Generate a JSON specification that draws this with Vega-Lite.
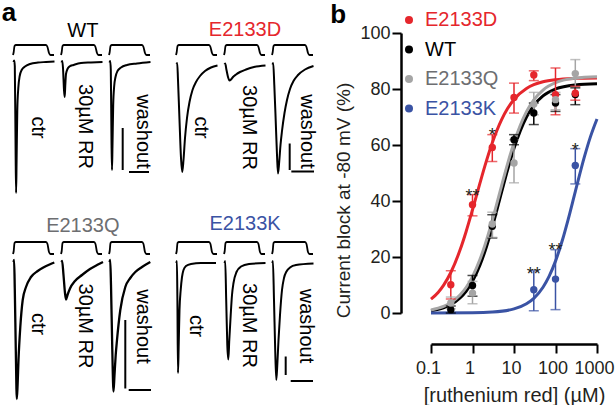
{
 "$schema": "https://vega.github.io/schema/vega-lite/v6.json",
 "background": "white",
 "padding": {"left": 1, "top": 0, "right": 0, "bottom": 0},
 "config": {"font": "Liberation Sans", "view": {"stroke": null}},
 "resolve": {"scale": {"color": "independent"}, "legend": {"color": "independent"}},
 "datasets": {
  "traces": [
   {"g":"WT","sweep":"ctr","kind":"proto","t":[0,1.7,3.6,7.1,78.6,82.1,85.7,89.3,97.6],"i":[0.16,0.22,0.34,0.36,0.36,0.32,0.20,0.16,0.16]},
   {"g":"WT","sweep":"RR","kind":"proto","t":[0,1.7,3.6,7.1,78.6,82.1,85.7,89.3,97.6],"i":[0.16,0.22,0.34,0.36,0.36,0.32,0.20,0.16,0.16]},
   {"g":"WT","sweep":"washout","kind":"proto","t":[0,1.7,3.6,7.1,78.6,82.1,85.7,89.3,97.6],"i":[0.16,0.22,0.34,0.36,0.36,0.32,0.20,0.16,0.16]},
   {"g":"E2133D","sweep":"ctr","kind":"proto","t":[0,1.7,3.6,7.1,78.6,82.1,85.7,89.3,97.6],"i":[0.16,0.22,0.34,0.36,0.36,0.32,0.20,0.16,0.16]},
   {"g":"E2133D","sweep":"RR","kind":"proto","t":[0,1.7,3.6,7.1,78.6,82.1,85.7,89.3,97.6],"i":[0.16,0.22,0.34,0.36,0.36,0.32,0.20,0.16,0.16]},
   {"g":"E2133D","sweep":"washout","kind":"proto","t":[0,1.7,3.6,7.1,78.6,82.1,85.7,89.3,97.6],"i":[0.16,0.22,0.34,0.36,0.36,0.32,0.20,0.16,0.16]},
   {"g":"E2133Q","sweep":"ctr","kind":"proto","t":[0,1.7,3.6,7.1,78.6,82.1,85.7,89.3,97.6],"i":[0.16,0.22,0.38,0.40,0.40,0.36,0.20,0.16,0.16]},
   {"g":"E2133Q","sweep":"RR","kind":"proto","t":[0,1.7,3.6,7.1,78.6,82.1,85.7,89.3,97.6],"i":[0.16,0.22,0.38,0.40,0.40,0.36,0.20,0.16,0.16]},
   {"g":"E2133Q","sweep":"washout","kind":"proto","t":[0,1.7,3.6,7.1,78.6,82.1,85.7,89.3,97.6],"i":[0.16,0.22,0.38,0.40,0.40,0.36,0.20,0.16,0.16]},
   {"g":"E2133K","sweep":"ctr","kind":"proto","t":[0,1.7,3.6,7.1,78.6,82.1,85.7,89.3,97.6],"i":[0.16,0.22,0.38,0.40,0.40,0.36,0.20,0.16,0.16]},
   {"g":"E2133K","sweep":"RR","kind":"proto","t":[0,1.7,3.6,7.1,78.6,82.1,85.7,89.3,97.6],"i":[0.16,0.22,0.38,0.40,0.40,0.36,0.20,0.16,0.16]},
   {"g":"E2133K","sweep":"washout","kind":"proto","t":[0,1.7,3.6,7.1,78.6,82.1,85.7,89.3,97.6],"i":[0.16,0.22,0.38,0.40,0.40,0.36,0.20,0.16,0.16]},

   {"g":"WT","sweep":"ctr","kind":"trace","t":[1.2,2.86,4.29,6.19,7.38,8.57,10.24,12.62,15.95,20.71,28.57,40.48,59.52,78.57,98.8],"i":[0.02,0.05,-0.06,-1.74,-2.6,-1.94,-0.94,-0.5,-0.26,-0.14,-0.07,-0.02,0.01,0.02,0.03]},
   {"g":"WT","sweep":"RR","kind":"trace","t":[1.19,3.1,4.76,7.14,8.81,10.24,11.9,15.48,20.24,29.76,47.62,71.43,98.81],"i":[0.01,0.04,-0.1,-0.54,-0.68,-0.44,-0.22,-0.12,-0.07,-0.04,0.0,0.01,0.02]},
   {"g":"WT","sweep":"washout","kind":"trace","t":[1.19,2.86,4.29,5.95,7.14,8.33,10.0,12.38,15.48,20.24,28.57,42.86,66.67,98.81],"i":[0.01,0.04,-0.14,-1.54,-2.14,-1.64,-0.84,-0.46,-0.28,-0.16,-0.09,-0.04,-0.01,0.02]},
   {"g":"E2133D","sweep":"ctr","kind":"trace","t":[1.19,2.86,4.76,8.33,11.9,14.76,17.86,21.43,26.19,32.14,39.29,47.62,57.14,69.05,83.33,98.81],"i":[-0.02,0.0,-0.34,-1.14,-1.9,-2.18,-1.94,-1.5,-1.1,-0.78,-0.54,-0.38,-0.26,-0.16,-0.09,-0.05]},
   {"g":"E2133D","sweep":"RR","kind":"trace","t":[1.19,2.86,5.95,9.52,13.1,16.67,21.43,28.57,38.1,52.38,71.43,98.81],"i":[-0.03,-0.01,-0.14,-0.28,-0.35,-0.33,-0.28,-0.23,-0.18,-0.13,-0.08,-0.05]},
   {"g":"E2133D","sweep":"washout","kind":"trace","t":[1.19,2.86,5.48,8.33,11.9,14.29,17.14,20.24,23.81,29.76,35.71,42.86,51.19,61.9,78.57,98.81],"i":[-0.03,0.0,-0.44,-1.04,-1.84,-2.21,-1.98,-1.64,-1.36,-1.0,-0.74,-0.52,-0.36,-0.24,-0.13,-0.06]},
   {"g":"E2133Q","sweep":"ctr","kind":"trace","t":[1.19,2.62,4.29,6.67,9.05,10.95,13.1,17.38,23.1,30.95,42.86,58.81,74.52,98.33],"i":[0.0,0.04,-0.56,-1.76,-2.74,-2.46,-1.96,-1.3,-0.76,-0.5,-0.3,-0.18,-0.1,-0.01]},
   {"g":"E2133Q","sweep":"RR","kind":"trace","t":[1.19,2.62,5.95,9.52,11.9,15.48,21.43,33.33,50.0,69.05,85.71,100],"i":[0.0,0.02,-0.26,-0.62,-0.75,-0.66,-0.53,-0.38,-0.26,-0.14,-0.06,0.0]},
   {"g":"E2133Q","sweep":"washout","kind":"trace","t":[1.19,2.86,4.76,7.62,10.71,13.1,15.95,19.05,26.9,38.81,50.71,62.62,78.57,98.33],"i":[0.0,0.04,-0.46,-1.66,-2.59,-2.26,-1.86,-1.56,-0.96,-0.5,-0.32,-0.2,-0.1,0.0]},
   {"g":"E2133K","sweep":"ctr","kind":"trace","t":[0.71,2.14,3.33,4.76,6.43,8.33,11.19,14.29,17.86,23.81,35.71,59.52,95.24],"i":[-0.02,0.02,-0.76,-2.22,-1.66,-0.96,-0.56,-0.3,-0.16,-0.08,-0.04,-0.02,-0.02]},
   {"g":"E2133K","sweep":"RR","kind":"trace","t":[1.19,2.86,5.24,7.86,10.24,12.62,15.95,19.05,22.62,29.76,40.48,59.52,98.81],"i":[-0.02,0.02,-0.76,-1.66,-1.95,-1.56,-1.06,-0.66,-0.42,-0.2,-0.09,-0.04,-0.02]},
   {"g":"E2133K","sweep":"washout","kind":"trace","t":[0.71,2.14,4.76,7.62,10.24,12.62,15.48,19.05,23.81,28.57,34.52,42.86,57.14,98.81],"i":[-0.02,0.02,-0.76,-1.76,-2.36,-2.06,-1.56,-1.06,-0.56,-0.32,-0.19,-0.11,-0.06,-0.03]},

   {"g":"WT","sweep":"washout","kind":"bar","t":32.6,"t2":32.6,"i":-1.3,"i2":-2.14},
   {"g":"WT","sweep":"washout","kind":"bar","t":47.6,"t2":95.2,"i":-2.18,"i2":-2.18},
   {"g":"E2133D","sweep":"washout","kind":"bar","t":42.1,"t2":42.1,"i":-1.61,"i2":-2.14},
   {"g":"E2133D","sweep":"washout","kind":"bar","t":46,"t2":100,"i":-2.17,"i2":-2.17},
   {"g":"E2133Q","sweep":"washout","kind":"bar","t":38.8,"t2":38.8,"i":-1.16,"i2":-2.53},
   {"g":"E2133Q","sweep":"washout","kind":"bar","t":46.9,"t2":100,"i":-2.56,"i2":-2.56},
   {"g":"E2133K","sweep":"washout","kind":"bar","t":32.6,"t2":32.6,"i":-1.89,"i2":-2.26},
   {"g":"E2133K","sweep":"washout","kind":"bar","t":44.5,"t2":97.6,"i":-2.38,"i2":-2.38},

   {"g":"WT","sweep":"ctr","kind":"label","t":60.7,"i":-1.29,"label":"ctr"},
   {"g":"WT","sweep":"RR","kind":"label","t":57.1,"i":-1.27,"label":"30µM RR"},
   {"g":"WT","sweep":"washout","kind":"label","t":81,"i":-1.37,"label":"washout"},
   {"g":"E2133D","sweep":"ctr","kind":"label","t":60.7,"i":-1.29,"label":"ctr"},
   {"g":"E2133D","sweep":"RR","kind":"label","t":59.5,"i":-1.29,"label":"30µM RR"},
   {"g":"E2133D","sweep":"washout","kind":"label","t":83.3,"i":-1.37,"label":"washout"},
   {"g":"E2133Q","sweep":"ctr","kind":"label","t":60.7,"i":-1.24,"label":"ctr"},
   {"g":"E2133Q","sweep":"RR","kind":"label","t":57.9,"i":-1.28,"label":"30µM RR"},
   {"g":"E2133Q","sweep":"washout","kind":"label","t":81,"i":-1.29,"label":"washout"},
   {"g":"E2133K","sweep":"ctr","kind":"label","t":47.6,"i":-1.28,"label":"ctr"},
   {"g":"E2133K","sweep":"RR","kind":"label","t":59.5,"i":-1.27,"label":"30µM RR"},
   {"g":"E2133K","sweep":"washout","kind":"label","t":82.1,"i":-1.28,"label":"washout"},

   {"g":"WT","sweep":"RR","kind":"gtitle","t":52,"i":0.64,"label":"WT"},
   {"g":"E2133D","sweep":"RR","kind":"gtitle","t":50,"i":0.66,"label":"E2133D"},
   {"g":"E2133Q","sweep":"RR","kind":"gtitle","t":52,"i":0.72,"label":"E2133Q"},
   {"g":"E2133K","sweep":"RR","kind":"gtitle","t":50,"i":0.76,"label":"E2133K"},
   {"g":"WT","sweep":"ctr","kind":"panel","t":-9.5,"i":1.0,"label":"a"}
  ],
  "curves": [
   {"s":"WT","c":0.1,"v":0.82},{"s":"WT","c":0.2,"v":1.86},{"s":"WT","c":0.3,"v":2.98},{"s":"WT","c":0.5,"v":5.35},{"s":"WT","c":0.7,"v":7.75},{"s":"WT","c":1,"v":11.33},{"s":"WT","c":1.5,"v":16.95},{"s":"WT","c":2,"v":22.06},{"s":"WT","c":3,"v":30.71},{"s":"WT","c":5,"v":43.05},{"s":"WT","c":7,"v":51.11},{"s":"WT","c":10,"v":58.82},{"s":"WT","c":20,"v":70.0},{"s":"WT","c":30,"v":74.18},{"s":"WT","c":50,"v":77.57},{"s":"WT","c":100,"v":80.01},{"s":"WT","c":300,"v":81.46},{"s":"WT","c":1000,"v":81.87},
   {"s":"E2133D","c":0.1,"v":4.92},{"s":"E2133D","c":0.15,"v":7.43},{"s":"E2133D","c":0.2,"v":9.87},{"s":"E2133D","c":0.3,"v":14.47},{"s":"E2133D","c":0.5,"v":22.46},{"s":"E2133D","c":0.7,"v":29.04},{"s":"E2133D","c":1,"v":36.87},{"s":"E2133D","c":1.5,"v":46.19},{"s":"E2133D","c":2,"v":52.62},{"s":"E2133D","c":3,"v":60.8},{"s":"E2133D","c":5,"v":68.99},{"s":"E2133D","c":7,"v":73.02},{"s":"E2133D","c":10,"v":76.26},{"s":"E2133D","c":20,"v":80.2},{"s":"E2133D","c":30,"v":81.53},{"s":"E2133D","c":50,"v":82.57},{"s":"E2133D","c":100,"v":83.33},{"s":"E2133D","c":300,"v":83.8},{"s":"E2133D","c":1000,"v":83.95},
   {"s":"E2133Q","c":0.1,"v":1.08},{"s":"E2133Q","c":0.2,"v":2.35},{"s":"E2133Q","c":0.3,"v":3.68},{"s":"E2133Q","c":0.5,"v":6.41},{"s":"E2133Q","c":0.7,"v":9.11},{"s":"E2133Q","c":1,"v":13.01},{"s":"E2133Q","c":1.5,"v":19.0},{"s":"E2133Q","c":2,"v":24.31},{"s":"E2133Q","c":3,"v":33.09},{"s":"E2133Q","c":5,"v":45.35},{"s":"E2133Q","c":7,"v":53.27},{"s":"E2133Q","c":10,"v":60.84},{"s":"E2133Q","c":20,"v":71.9},{"s":"E2133Q","c":30,"v":76.13},{"s":"E2133Q","c":50,"v":79.63},{"s":"E2133Q","c":100,"v":82.24},{"s":"E2133Q","c":300,"v":83.85},{"s":"E2133Q","c":1000,"v":84.34},
   {"s":"E2133K","c":0.1,"v":0.01},{"s":"E2133K","c":1,"v":0.09},{"s":"E2133K","c":3,"v":0.35},{"s":"E2133K","c":10,"v":1.47},{"s":"E2133K","c":20,"v":3.3},{"s":"E2133K","c":30,"v":5.24},{"s":"E2133K","c":50,"v":9.2},{"s":"E2133K","c":70,"v":13.07},{"s":"E2133K","c":100,"v":18.53},{"s":"E2133K","c":150,"v":26.51},{"s":"E2133K","c":200,"v":33.18},{"s":"E2133K","c":300,"v":43.36},{"s":"E2133K","c":500,"v":55.92},{"s":"E2133K","c":700,"v":63.09},{"s":"E2133K","c":1000,"v":69.31}
  ],
  "points": [
   {"s":"WT","c":0.3,"v":1.2,"lo":0,"hi":2.5},{"s":"WT","c":1,"v":9.8,"lo":6,"hi":13.4},{"s":"WT","c":3,"v":31,"lo":26.8,"hi":35.1},{"s":"WT","c":10,"v":61.9,"lo":60.1,"hi":63.7},{"s":"WT","c":30,"v":71.4,"lo":67.3,"hi":75},{"s":"WT","c":100,"v":75,"lo":72,"hi":78},{"s":"WT","c":300,"v":78,"lo":74.4,"hi":80.4},
   {"s":"E2133D","c":0.3,"v":10.1,"lo":5,"hi":15.1},{"s":"E2133D","c":1,"v":38.7,"lo":34.7,"hi":42.3},{"s":"E2133D","c":3,"v":59.1,"lo":54.1,"hi":63.7},{"s":"E2133D","c":10,"v":77,"lo":71.4,"hi":82.1},{"s":"E2133D","c":30,"v":85,"lo":83,"hi":86.5},{"s":"E2133D","c":100,"v":78,"lo":70.8,"hi":87.5},{"s":"E2133D","c":300,"v":78.5,"lo":76,"hi":81},
   {"s":"E2133Q","c":0.3,"v":3.6,"lo":1.5,"hi":5.7},{"s":"E2133Q","c":1,"v":7.1,"lo":3.3,"hi":11.3},{"s":"E2133Q","c":3,"v":31.8,"lo":27,"hi":36},{"s":"E2133Q","c":10,"v":53.6,"lo":46.5,"hi":61.9},{"s":"E2133Q","c":30,"v":74.6,"lo":70.8,"hi":78.8},{"s":"E2133Q","c":100,"v":76.2,"lo":72.6,"hi":78.8},{"s":"E2133Q","c":300,"v":85.5,"lo":80.7,"hi":90.5},
   {"s":"E2133K","c":30,"v":8.3,"lo":0.8,"hi":15.1},{"s":"E2133K","c":100,"v":12.1,"lo":1.2,"hi":22.6},{"s":"E2133K","c":300,"v":52.7,"lo":46.1,"hi":58.7}
  ],
  "stars": [
   {"c":1,"v":45.0,"sig":"**"},{"c":3,"v":66.9,"sig":"*"},{"c":30,"v":17.3,"sig":"**"},{"c":100,"v":25.6,"sig":"**"},{"c":300,"v":61.3,"sig":"*"}
  ],
  "panelb": [{"c":0.00058,"v":106.5,"label":"b"}]
 },
 "spacing": 12,
 "hconcat": [
  {
   "data": {"name": "traces"},
   "columns": 6, "align": "each", "bounds": "flush", "spacing": {"row": 44, "column": 6},
   "concat": [
    {"width": 42, "height": 163, "transform": [{"filter": "datum.g === 'WT' && datum.sweep === 'ctr'"}],
     "encoding": {"x": {"field": "t", "type": "quantitative", "scale": {"domain": [0, 100], "nice": false, "zero": false}, "axis": null}, "y": {"field": "i", "type": "quantitative", "scale": {"domain": [-2.66, 0.6], "nice": false, "zero": false}, "axis": null}},
     "layer": [
      {"transform": [{"filter": "datum.kind === 'proto'"}, {"flatten": ["t", "i"]}], "mark": {"type": "line", "color": "#000", "strokeWidth": 1.8, "interpolate": "monotone"}},
      {"transform": [{"filter": "datum.kind === 'trace'"}, {"flatten": ["t", "i"]}], "mark": {"type": "line", "color": "#000", "strokeWidth": 2, "interpolate": "monotone"}},
      {"transform": [{"filter": "datum.kind === 'label'"}], "mark": {"type": "text", "angle": 90, "fontSize": 20, "color": "#000"}, "encoding": {"text": {"field": "label"}}},
      {"transform": [{"filter": "datum.kind === 'panel'"}], "mark": {"type": "text", "fontSize": 26, "fontWeight": "bold", "baseline": "middle", "color": "#000"}, "encoding": {"text": {"field": "label"}}}
     ]},
    {"width": 42, "height": 163, "transform": [{"filter": "datum.g === 'WT' && datum.sweep === 'RR'"}],
     "encoding": {"x": {"field": "t", "type": "quantitative", "scale": {"domain": [0, 100], "nice": false, "zero": false}, "axis": null}, "y": {"field": "i", "type": "quantitative", "scale": {"domain": [-2.66, 0.6], "nice": false, "zero": false}, "axis": null}},
     "layer": [
      {"transform": [{"filter": "datum.kind === 'proto'"}, {"flatten": ["t", "i"]}], "mark": {"type": "line", "color": "#000", "strokeWidth": 1.8, "interpolate": "monotone"}},
      {"transform": [{"filter": "datum.kind === 'trace'"}, {"flatten": ["t", "i"]}], "mark": {"type": "line", "color": "#000", "strokeWidth": 2, "interpolate": "monotone"}},
      {"transform": [{"filter": "datum.kind === 'label'"}], "mark": {"type": "text", "angle": 90, "fontSize": 20, "color": "#000"}, "encoding": {"text": {"field": "label"}}},
      {"transform": [{"filter": "datum.kind === 'gtitle'"}], "mark": {"type": "text", "fontSize": 20, "baseline": "middle", "color": "#000000"}, "encoding": {"text": {"field": "label"}}}
     ]},
    {"width": 60.5, "height": 163, "transform": [{"filter": "datum.g === 'WT' && datum.sweep === 'washout'"}],
     "encoding": {"x": {"field": "t", "type": "quantitative", "scale": {"domain": [0, 144.05], "nice": false, "zero": false}, "axis": null}, "y": {"field": "i", "type": "quantitative", "scale": {"domain": [-2.66, 0.6], "nice": false, "zero": false}, "axis": null}},
     "layer": [
      {"transform": [{"filter": "datum.kind === 'proto'"}, {"flatten": ["t", "i"]}], "mark": {"type": "line", "color": "#000", "strokeWidth": 1.8, "interpolate": "monotone"}},
      {"transform": [{"filter": "datum.kind === 'trace'"}, {"flatten": ["t", "i"]}], "mark": {"type": "line", "color": "#000", "strokeWidth": 2, "interpolate": "monotone"}},
      {"transform": [{"filter": "datum.kind === 'bar'"}], "mark": {"type": "rule", "color": "#000", "strokeWidth": 2}, "encoding": {"x2": {"field": "t2"}, "y2": {"field": "i2"}}},
      {"transform": [{"filter": "datum.kind === 'label'"}], "mark": {"type": "text", "angle": 90, "fontSize": 20, "color": "#000"}, "encoding": {"text": {"field": "label"}}}
     ]},
    {"width": 42, "height": 163, "transform": [{"filter": "datum.g === 'E2133D' && datum.sweep === 'ctr'"}],
     "encoding": {"x": {"field": "t", "type": "quantitative", "scale": {"domain": [0, 100], "nice": false, "zero": false}, "axis": null}, "y": {"field": "i", "type": "quantitative", "scale": {"domain": [-2.66, 0.6], "nice": false, "zero": false}, "axis": null}},
     "layer": [
      {"transform": [{"filter": "datum.kind === 'proto'"}, {"flatten": ["t", "i"]}], "mark": {"type": "line", "color": "#000", "strokeWidth": 1.8, "interpolate": "monotone"}},
      {"transform": [{"filter": "datum.kind === 'trace'"}, {"flatten": ["t", "i"]}], "mark": {"type": "line", "color": "#000", "strokeWidth": 2, "interpolate": "monotone"}},
      {"transform": [{"filter": "datum.kind === 'label'"}], "mark": {"type": "text", "angle": 90, "fontSize": 20, "color": "#000"}, "encoding": {"text": {"field": "label"}}}
     ]},
    {"width": 42, "height": 163, "transform": [{"filter": "datum.g === 'E2133D' && datum.sweep === 'RR'"}],
     "encoding": {"x": {"field": "t", "type": "quantitative", "scale": {"domain": [0, 100], "nice": false, "zero": false}, "axis": null}, "y": {"field": "i", "type": "quantitative", "scale": {"domain": [-2.66, 0.6], "nice": false, "zero": false}, "axis": null}},
     "layer": [
      {"transform": [{"filter": "datum.kind === 'proto'"}, {"flatten": ["t", "i"]}], "mark": {"type": "line", "color": "#000", "strokeWidth": 1.8, "interpolate": "monotone"}},
      {"transform": [{"filter": "datum.kind === 'trace'"}, {"flatten": ["t", "i"]}], "mark": {"type": "line", "color": "#000", "strokeWidth": 2, "interpolate": "monotone"}},
      {"transform": [{"filter": "datum.kind === 'label'"}], "mark": {"type": "text", "angle": 90, "fontSize": 20, "color": "#000"}, "encoding": {"text": {"field": "label"}}},
      {"transform": [{"filter": "datum.kind === 'gtitle'"}], "mark": {"type": "text", "fontSize": 20, "baseline": "middle", "color": "#e5262c"}, "encoding": {"text": {"field": "label"}}}
     ]},
    {"width": 42, "height": 163, "transform": [{"filter": "datum.g === 'E2133D' && datum.sweep === 'washout'"}],
     "encoding": {"x": {"field": "t", "type": "quantitative", "scale": {"domain": [0, 100], "nice": false, "zero": false}, "axis": null}, "y": {"field": "i", "type": "quantitative", "scale": {"domain": [-2.66, 0.6], "nice": false, "zero": false}, "axis": null}},
     "layer": [
      {"transform": [{"filter": "datum.kind === 'proto'"}, {"flatten": ["t", "i"]}], "mark": {"type": "line", "color": "#000", "strokeWidth": 1.8, "interpolate": "monotone"}},
      {"transform": [{"filter": "datum.kind === 'trace'"}, {"flatten": ["t", "i"]}], "mark": {"type": "line", "color": "#000", "strokeWidth": 2, "interpolate": "monotone"}},
      {"transform": [{"filter": "datum.kind === 'bar'"}], "mark": {"type": "rule", "color": "#000", "strokeWidth": 2}, "encoding": {"x2": {"field": "t2"}, "y2": {"field": "i2"}}},
      {"transform": [{"filter": "datum.kind === 'label'"}], "mark": {"type": "text", "angle": 90, "fontSize": 20, "color": "#000"}, "encoding": {"text": {"field": "label"}}}
     ]},
    {"width": 42, "height": 162, "transform": [{"filter": "datum.g === 'E2133Q' && datum.sweep === 'ctr'"}],
     "encoding": {"x": {"field": "t", "type": "quantitative", "scale": {"domain": [0, 100], "nice": false, "zero": false}, "axis": null}, "y": {"field": "i", "type": "quantitative", "scale": {"domain": [-2.8, 0.44], "nice": false, "zero": false}, "axis": null}},
     "layer": [
      {"transform": [{"filter": "datum.kind === 'proto'"}, {"flatten": ["t", "i"]}], "mark": {"type": "line", "color": "#000", "strokeWidth": 1.8, "interpolate": "monotone"}},
      {"transform": [{"filter": "datum.kind === 'trace'"}, {"flatten": ["t", "i"]}], "mark": {"type": "line", "color": "#000", "strokeWidth": 2.3, "interpolate": "monotone"}},
      {"transform": [{"filter": "datum.kind === 'label'"}], "mark": {"type": "text", "angle": 90, "fontSize": 20, "color": "#000"}, "encoding": {"text": {"field": "label"}}}
     ]},
    {"width": 42, "height": 162, "transform": [{"filter": "datum.g === 'E2133Q' && datum.sweep === 'RR'"}],
     "encoding": {"x": {"field": "t", "type": "quantitative", "scale": {"domain": [0, 100], "nice": false, "zero": false}, "axis": null}, "y": {"field": "i", "type": "quantitative", "scale": {"domain": [-2.8, 0.44], "nice": false, "zero": false}, "axis": null}},
     "layer": [
      {"transform": [{"filter": "datum.kind === 'proto'"}, {"flatten": ["t", "i"]}], "mark": {"type": "line", "color": "#000", "strokeWidth": 1.8, "interpolate": "monotone"}},
      {"transform": [{"filter": "datum.kind === 'trace'"}, {"flatten": ["t", "i"]}], "mark": {"type": "line", "color": "#000", "strokeWidth": 2.3, "interpolate": "monotone"}},
      {"transform": [{"filter": "datum.kind === 'label'"}], "mark": {"type": "text", "angle": 90, "fontSize": 20, "color": "#000"}, "encoding": {"text": {"field": "label"}}},
      {"transform": [{"filter": "datum.kind === 'gtitle'"}], "mark": {"type": "text", "fontSize": 20, "baseline": "middle", "color": "#6d6e71"}, "encoding": {"text": {"field": "label"}}}
     ]},
    {"width": 60.5, "height": 162, "transform": [{"filter": "datum.g === 'E2133Q' && datum.sweep === 'washout'"}],
     "encoding": {"x": {"field": "t", "type": "quantitative", "scale": {"domain": [0, 144.05], "nice": false, "zero": false}, "axis": null}, "y": {"field": "i", "type": "quantitative", "scale": {"domain": [-2.8, 0.44], "nice": false, "zero": false}, "axis": null}},
     "layer": [
      {"transform": [{"filter": "datum.kind === 'proto'"}, {"flatten": ["t", "i"]}], "mark": {"type": "line", "color": "#000", "strokeWidth": 1.8, "interpolate": "monotone"}},
      {"transform": [{"filter": "datum.kind === 'trace'"}, {"flatten": ["t", "i"]}], "mark": {"type": "line", "color": "#000", "strokeWidth": 2.3, "interpolate": "monotone"}},
      {"transform": [{"filter": "datum.kind === 'bar'"}], "mark": {"type": "rule", "color": "#000", "strokeWidth": 2}, "encoding": {"x2": {"field": "t2"}, "y2": {"field": "i2"}}},
      {"transform": [{"filter": "datum.kind === 'label'"}], "mark": {"type": "text", "angle": 90, "fontSize": 20, "color": "#000"}, "encoding": {"text": {"field": "label"}}}
     ]},
    {"width": 42, "height": 162, "transform": [{"filter": "datum.g === 'E2133K' && datum.sweep === 'ctr'"}],
     "encoding": {"x": {"field": "t", "type": "quantitative", "scale": {"domain": [0, 100], "nice": false, "zero": false}, "axis": null}, "y": {"field": "i", "type": "quantitative", "scale": {"domain": [-2.8, 0.44], "nice": false, "zero": false}, "axis": null}},
     "layer": [
      {"transform": [{"filter": "datum.kind === 'proto'"}, {"flatten": ["t", "i"]}], "mark": {"type": "line", "color": "#000", "strokeWidth": 1.8, "interpolate": "monotone"}},
      {"transform": [{"filter": "datum.kind === 'trace'"}, {"flatten": ["t", "i"]}], "mark": {"type": "line", "color": "#000", "strokeWidth": 2, "interpolate": "monotone"}},
      {"transform": [{"filter": "datum.kind === 'label'"}], "mark": {"type": "text", "angle": 90, "fontSize": 20, "color": "#000"}, "encoding": {"text": {"field": "label"}}}
     ]},
    {"width": 42, "height": 162, "transform": [{"filter": "datum.g === 'E2133K' && datum.sweep === 'RR'"}],
     "encoding": {"x": {"field": "t", "type": "quantitative", "scale": {"domain": [0, 100], "nice": false, "zero": false}, "axis": null}, "y": {"field": "i", "type": "quantitative", "scale": {"domain": [-2.8, 0.44], "nice": false, "zero": false}, "axis": null}},
     "layer": [
      {"transform": [{"filter": "datum.kind === 'proto'"}, {"flatten": ["t", "i"]}], "mark": {"type": "line", "color": "#000", "strokeWidth": 1.8, "interpolate": "monotone"}},
      {"transform": [{"filter": "datum.kind === 'trace'"}, {"flatten": ["t", "i"]}], "mark": {"type": "line", "color": "#000", "strokeWidth": 2, "interpolate": "monotone"}},
      {"transform": [{"filter": "datum.kind === 'label'"}], "mark": {"type": "text", "angle": 90, "fontSize": 20, "color": "#000"}, "encoding": {"text": {"field": "label"}}},
      {"transform": [{"filter": "datum.kind === 'gtitle'"}], "mark": {"type": "text", "fontSize": 20, "baseline": "middle", "color": "#3a53a4"}, "encoding": {"text": {"field": "label"}}}
     ]},
    {"width": 42, "height": 162, "transform": [{"filter": "datum.g === 'E2133K' && datum.sweep === 'washout'"}],
     "encoding": {"x": {"field": "t", "type": "quantitative", "scale": {"domain": [0, 100], "nice": false, "zero": false}, "axis": null}, "y": {"field": "i", "type": "quantitative", "scale": {"domain": [-2.8, 0.44], "nice": false, "zero": false}, "axis": null}},
     "layer": [
      {"transform": [{"filter": "datum.kind === 'proto'"}, {"flatten": ["t", "i"]}], "mark": {"type": "line", "color": "#000", "strokeWidth": 1.8, "interpolate": "monotone"}},
      {"transform": [{"filter": "datum.kind === 'trace'"}, {"flatten": ["t", "i"]}], "mark": {"type": "line", "color": "#000", "strokeWidth": 2, "interpolate": "monotone"}},
      {"transform": [{"filter": "datum.kind === 'bar'"}], "mark": {"type": "rule", "color": "#000", "strokeWidth": 2}, "encoding": {"x2": {"field": "t2"}, "y2": {"field": "i2"}}},
      {"transform": [{"filter": "datum.kind === 'label'"}], "mark": {"type": "text", "angle": 90, "fontSize": 20, "color": "#000"}, "encoding": {"text": {"field": "label"}}}
     ]}
   ]
  },
  {
   "width": 166, "height": 280,
   "encoding": {
    "x": {"field": "c", "type": "quantitative", "scale": {"type": "log", "domain": [0.1, 1000], "nice": false},
          "axis": {"values": [0.1, 1, 10, 100, 1000], "format": "~g", "offset": 31, "tickSize": 9, "tickWidth": 2, "tickColor": "#000", "domainWidth": 2.5, "domainColor": "#000", "labelFontSize": 18, "labelColor": "#231f20", "labelPadding": 6, "labelOffset": -3, "labelFlush": false, "labelOverlap": false, "title": "[ruthenium red] (µM)", "titleFontSize": 20, "titleFontWeight": "normal", "titleColor": "#231f20", "titlePadding": 8, "grid": false}},
    "y": {"field": "v", "type": "quantitative", "scale": {"domain": [0, 100], "nice": false},
          "axis": {"values": [0, 20, 40, 60, 80, 100], "offset": 30, "tickSize": 9, "tickWidth": 2, "tickColor": "#000", "domainWidth": 2.5, "domainColor": "#000", "labelFontSize": 18, "labelColor": "#231f20", "labelPadding": 2, "title": "Current block at -80 mV (%)", "titleFontSize": 19, "titleFontWeight": "normal", "titleColor": "#231f20", "titlePadding": 6, "titleY": 167, "grid": false}}
   },
   "layer": [
    {"data": {"name": "curves"}, "mark": {"type": "line", "strokeWidth": 3, "interpolate": "monotone"},
     "encoding": {"color": {"field": "s", "type": "nominal", "scale": {"domain": ["E2133D", "WT", "E2133Q", "E2133K"], "range": ["#e5262c", "#000000", "#a5a5a5", "#3a53a4"]},
       "legend": {"orient": "none", "legendX": -32, "legendY": -23, "title": null, "symbolType": "circle", "symbolSize": 64, "symbolStrokeWidth": 0, "labelFontSize": 20, "labelOffset": 6, "rowPadding": 9.5, "padding": 0, "labelFont": "Liberation Sans",
        "encode": {"labels": {"update": {"fill": {"signal": "datum.value === 'E2133D' ? '#e5262c' : datum.value === 'WT' ? '#000000' : datum.value === 'E2133Q' ? '#6d6e71' : '#3a53a4'"}}},
                   "symbols": {"update": {"fill": {"signal": "datum.value === 'E2133D' ? '#e5262c' : datum.value === 'WT' ? '#000000' : datum.value === 'E2133Q' ? '#a5a5a5' : '#3a53a4'"}, "stroke": {"value": "transparent"}, "opacity": {"value": 1}}}}}}}},
    {"data": {"name": "points"}, "mark": {"type": "rule", "strokeWidth": 1.5},
     "encoding": {"y": {"field": "lo", "type": "quantitative", "title": "Current block at -80 mV (%)"}, "y2": {"field": "hi"},
                  "color": {"field": "s", "type": "nominal", "scale": {"domain": ["E2133D", "WT", "E2133Q", "E2133K"], "range": ["#e5262c", "#000000", "#a5a5a5", "#3a53a4"]}}}},
    {"data": {"name": "points"}, "mark": {"type": "tick", "orient": "horizontal", "size": 10, "thickness": 1.5},
     "encoding": {"y": {"field": "lo", "type": "quantitative", "title": "Current block at -80 mV (%)"},
                  "color": {"field": "s", "type": "nominal", "scale": {"domain": ["E2133D", "WT", "E2133Q", "E2133K"], "range": ["#e5262c", "#000000", "#a5a5a5", "#3a53a4"]}}}},
    {"data": {"name": "points"}, "mark": {"type": "tick", "orient": "horizontal", "size": 10, "thickness": 1.5},
     "encoding": {"y": {"field": "hi", "type": "quantitative", "title": "Current block at -80 mV (%)"},
                  "color": {"field": "s", "type": "nominal", "scale": {"domain": ["E2133D", "WT", "E2133Q", "E2133K"], "range": ["#e5262c", "#000000", "#a5a5a5", "#3a53a4"]}}}},
    {"data": {"name": "points"}, "mark": {"type": "point", "filled": true, "size": 55, "opacity": 1},
     "encoding": {"color": {"field": "s", "type": "nominal", "scale": {"domain": ["E2133D", "WT", "E2133Q", "E2133K"], "range": ["#e5262c", "#000000", "#a5a5a5", "#3a53a4"]}}}},
    {"data": {"name": "stars"}, "mark": {"type": "text", "fontSize": 18, "dy": 10, "color": "#231f20"},
     "encoding": {"text": {"field": "sig"}}},
    {"data": {"name": "panelb"}, "mark": {"type": "text", "fontSize": 26, "fontWeight": "bold", "baseline": "middle", "color": "#000"},
     "encoding": {"text": {"field": "label"}}}
   ]
  }
 ]
}
